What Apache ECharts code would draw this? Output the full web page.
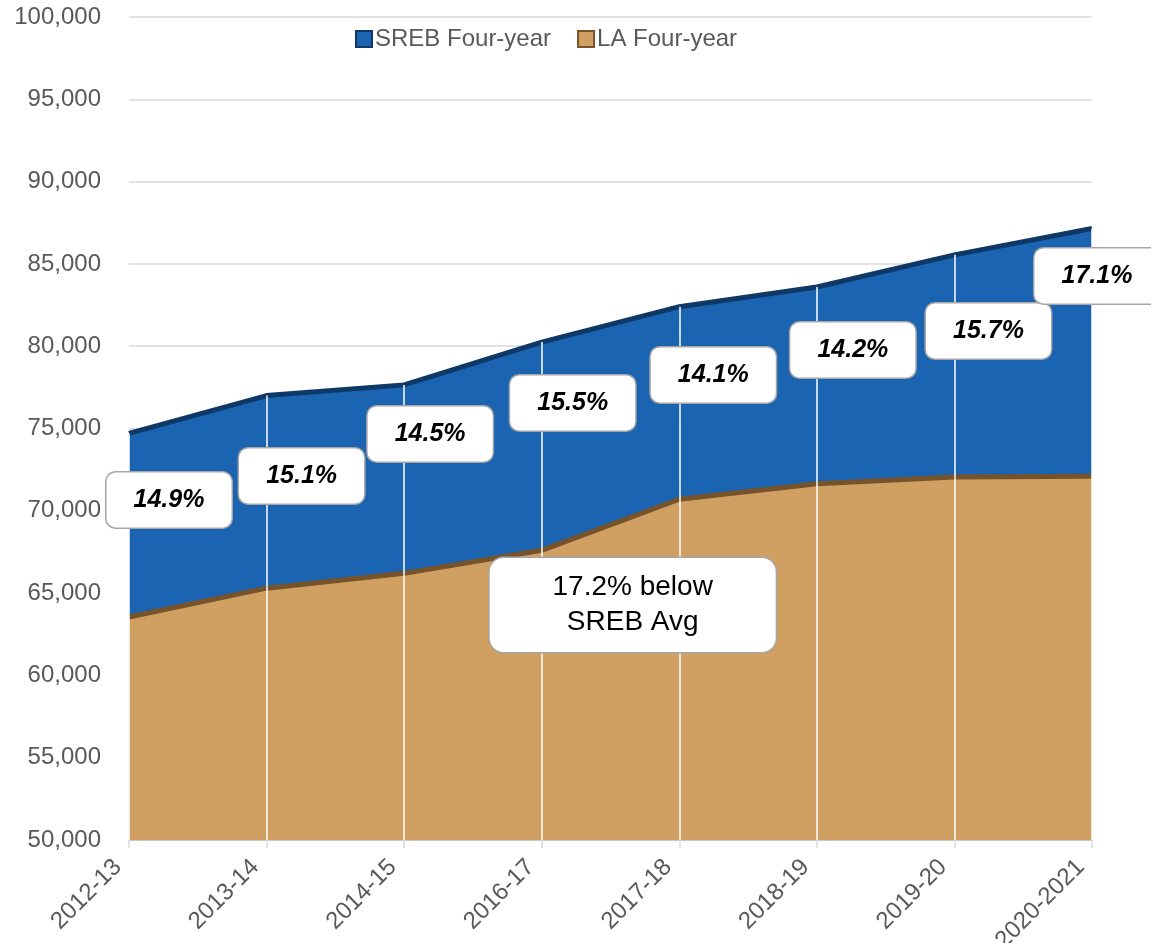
<!DOCTYPE html>
<html>
<head>
<meta charset="utf-8">
<title>SREB vs LA Four-year</title>
<script src="https://cdn.jsdelivr.net/npm/echarts@6/dist/echarts.min.js"></script>
<style>
  html, body { margin: 0; padding: 0; background: #fff; }
  #chart { width: 1151px; height: 943px; }
</style>
</head>
<body>
<div id="chart"></div>
<script>
// categories + values
var years = ['2012-13', '2013-14', '2014-15', '2016-17', '2017-18', '2018-19', '2019-20', '2020-2021'];
var srebFourYear = [74700, 77000, 77650, 80250, 82400, 83600, 85550, 87150];
var laFourYear = [63550, 65300, 66200, 67600, 70700, 71650, 72050, 72100];
var gapLabels = ['14.9%', '15.1%', '14.5%', '15.5%', '14.1%', '14.2%', '15.7%', '17.1%'];
var noteText = '17.2% below\nSREB Avg';
var yTicks = [50000, 100000, 5000]; // min, max, step

var FONT = '"Liberation Sans", Arial, sans-serif';

// where each % box sits (value on y axis, px shift to the right of its year)
var boxY = [70656, 72114, 74666, 76549, 78250, 79769, 80924, 84265];
var boxDx = [40, 35, 26, 31, 34, 36, 34, 5];

var chart = echarts.init(document.getElementById('chart'));

var boxes = gapLabels.map(function (t, i) {
  return {
    coord: [years[i], boxY[i]],
    label: { formatter: t, offset: [boxDx[i], 0] }
  };
});
// the big note in the tan area
boxes.push({
  coord: [years[3], 64277],
  label: {
    formatter: noteText,
    offset: [91, 0],
    fontStyle: 'normal',
    fontWeight: 'normal',
    fontSize: 28,
    lineHeight: 35,
    width: 286,
    height: 94,
    borderRadius: 14
  }
});

var dropLines = years.map(function (y, i) {
  return [{ coord: [y, yTicks[0]] }, { coord: [y, srebFourYear[i]] }];
});

var option = {
  animation: false,
  textStyle: { fontFamily: FONT },
  legend: {
    data: ['SREB Four-year', 'LA Four-year'],
    left: 350,
    top: 22,
    icon: 'rect',
    itemWidth: 16,
    itemHeight: 16,
    itemGap: 26,
    textStyle: { fontSize: 24, color: '#595959', fontFamily: FONT, padding: [0, 0, 0, -2] }
  },
  grid: {
    left: 129,
    right: 59,
    top: 17,
    bottom: 103,
    containLabel: false,
    outerBoundsMode: 'none'
  },
  xAxis: {
    type: 'category',
    data: years,
    boundaryGap: false,
    axisLine: { show: true, lineStyle: { color: '#BFBFBF', width: 1.5 } },
    axisTick: { show: true, length: 8, lineStyle: { color: '#D9D9D9', width: 1.5 } },
    axisLabel: {
      rotate: 45,
      margin: 12,
      padding: [0, 16, 0, 0],
      fontSize: 24,
      color: '#595959',
      fontFamily: FONT
    },
    splitLine: { show: false }
  },
  yAxis: {
    type: 'value',
    min: yTicks[0],
    max: yTicks[1],
    interval: yTicks[2],
    axisLine: { show: false },
    axisTick: { show: false },
    axisLabel: {
      margin: 28,
      fontSize: 24,
      color: '#595959',
      fontFamily: FONT,
      formatter: function (v) { return v.toLocaleString('en-US'); }
    },
    splitLine: { show: true, lineStyle: { color: '#D9D9D9', width: 1.5 } }
  },
  series: [
    {
      name: 'SREB Four-year',
      type: 'line',
      data: srebFourYear,
      symbol: 'none',
      lineStyle: { color: '#0E3866', width: 5 },
      itemStyle: { color: '#1A64B2', borderColor: '#0E3866', borderWidth: 4 },
      areaStyle: { color: '#1A64B2', opacity: 1, origin: 'start' },
      z: 2
    },
    {
      name: 'LA Four-year',
      type: 'line',
      data: laFourYear,
      symbol: 'none',
      lineStyle: { color: '#76532A', width: 5 },
      itemStyle: { color: '#D09F62', borderColor: '#76532A', borderWidth: 4 },
      areaStyle: { color: '#D09F62', opacity: 1, origin: 'start' },
      z: 3,
      // white drop lines over both areas
      markLine: {
        silent: true,
        symbol: ['none', 'none'],
        label: { show: false },
        lineStyle: { color: '#FFFFFF', width: 1.5, type: 'solid' },
        data: dropLines
      }
    },
    {
      name: 'boxes',
      type: 'line',
      data: [],
      z: 10,
      markPoint: {
        silent: true,
        symbol: 'rect',
        symbolSize: 1,
        itemStyle: { color: 'rgba(0,0,0,0)' },
        label: {
          show: true,
          position: 'inside',
          color: '#000',
          fontFamily: FONT,
          fontSize: 25,
          fontWeight: 'bold',
          fontStyle: 'italic',
          align: 'center',
          verticalAlign: 'middle',
          backgroundColor: '#FFFFFF',
          borderColor: '#A6A6A6',
          borderWidth: 1.5,
          borderRadius: 9,
          width: 125,
          height: 55,
          lineHeight: 55,
          padding: 0
        },
        data: boxes
      }
    }
  ]
};

chart.setOption(option);
</script>
</body>
</html>
